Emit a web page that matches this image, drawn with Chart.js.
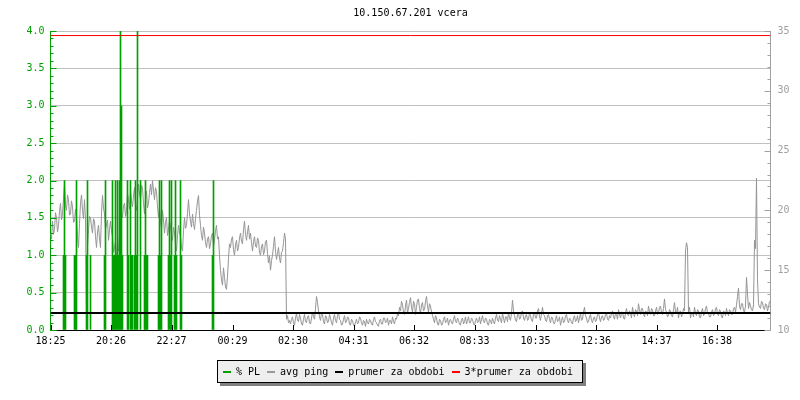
<!DOCTYPE html>
<html>
<head>
<meta charset="utf-8">
<script src="https://cdn.jsdelivr.net/npm/chart.js@4/dist/chart.umd.min.js"></script>
<style>
  body { margin: 0; background: #fff; }
  #wrap { position: relative; width: 800px; height: 400px; }
  #legend {
    position: absolute; left: 217px; top: 360px; width: 359px; height: 21px;
    border: 1px solid #000; background: #eeeeee; box-shadow: 3px 3px 0 #808080;
    display: flex; align-items: center; padding-left: 5px; box-sizing: content-box;
    font: 10px "DejaVu Sans Mono", monospace; color: #000; white-space: pre;
  }
  #legend .dash { display: inline-block; width: 8px; height: 2px; margin-right: 5px; }
  #legend .txt { margin-right: 7px; }
</style>
</head>
<body>
<div id="wrap">
  <canvas id="myChart" width="800" height="400"></canvas>
  <div id="legend">
    <span class="dash" style="background:#00a000"></span><span class="txt">% PL</span>
    <span class="dash" style="background:#999999"></span><span class="txt">avg ping</span>
    <span class="dash" style="background:#000000"></span><span class="txt">prumer za obdobi</span>
    <span class="dash" style="background:#ff0000"></span><span class="txt">3*prumer za obdobi</span>
  </div>
</div>
<script>
Chart.defaults.font.family = "DejaVu Sans Mono";
Chart.defaults.font.size = 10;

const title = "10.150.67.201 vcera";

// minutes since 18:25
const xTickMinutes = [0, 121, 242, 364, 485, 606, 727, 848, 970, 1091, 1212, 1333];
const xTickLabels = ["18:25", "20:26", "22:27", "00:29", "02:30", "04:31",
  "06:32", "08:33", "10:35", "12:36", "14:37", "16:38"];

// avg ping (ms), one value every 2 minutes
const pingStep = 2;
const pingValues = [
  18.1, 17.6, 19.1, 18.0, 18.4, 19.8, 19.4, 18.2, 18.75, 19.9, 20.6, 19.2, 19.7, 21.0, 22.2, 20.4, 20, 21.3, 20.9, 19.6,
  19.7, 20.8, 20.3, 19.0, 19.1, 20.1, 19.4, 17.8, 16.9, 18.9, 20.6, 21.3, 20, 19.3, 20.9, 19.2, 11.3, 17.0, 18.4, 19.5,
  19.4, 18.6, 18.1, 19.3, 19.1, 17.8, 16.9, 18.2, 18.75, 17.6, 16.9, 19.8, 21.25, 20.2, 19.7, 18.5, 18.75, 19.2, 17.5, 18.4,
  19.1, 18.3, 17.8, 16.5, 16.9, 17.4, 15.9, 16.8, 16.6, 17.9, 18.4, 19.6, 19.4, 20.4, 20.6, 19.5, 20, 21.4, 20.9, 20.1,
  21.6, 20.8, 20.3, 21.2, 21.9, 20.5, 20, 21.0, 22.2, 21.4, 20.9, 22.1, 21.9, 20.6, 19.7, 20.9, 21.6, 20.2, 20.6, 21.5,
  22.2, 21.3, 22.5, 21.7, 20.9, 21.9, 21.6, 20.3, 19.4, 20.2, 19.1, 18.5, 20, 19.2, 18.1, 19.0, 19.4, 17.9, 18.4, 19.1,
  18.75, 18.0, 17.5, 18.6, 18.1, 17.2, 16.6, 17.9, 18.75, 18.2, 17.8, 16.9, 16.6, 18.3, 19.4, 18.5, 18.75, 19.8, 20.9, 19.7,
  19.1, 18.6, 19.7, 18.9, 18.4, 19.3, 20, 20.8, 21.25, 19.6, 18.75, 17.9, 17.5, 18.6, 18.1, 17.3, 16.9, 17.6, 17.8, 16.8,
  17.2, 17.9, 18.1, 17.0, 17.5, 18.3, 18.75, 17.6, 17.8, 16.2, 15, 14.2, 13.75, 15.2, 14.4, 13.6, 13.4, 14.5, 16.0, 17.2,
  16.9, 17.6, 17.8, 16.7, 16.25, 17.1, 17.5, 16.6, 16.9, 17.7, 18.1, 17.4, 17.2, 18.4, 19.1, 18.0, 17.5, 18.2, 18.75, 17.6,
  18.1, 17.3, 16.6, 17.4, 17.8, 17.0, 16.9, 17.7, 17.5, 16.5, 16.25, 17.0, 17.2, 16.3, 16.6, 17.4, 17.5, 16.4, 15.6, 16.2,
  15, 15.8, 16.25, 17.0, 17.8, 16.6, 15.9, 16.4, 16.9, 16.0, 15.6, 16.5, 16.6, 17.3, 18.1, 17.6, 10.9, 11.2, 10.6, 10.8,
  10.5, 10.9, 11.1, 10.6, 10.4, 11.0, 11.4, 10.8, 10.7, 11.3, 11.0, 10.5, 10.4, 10.9, 11.3, 10.7, 10.6, 11.1, 11.2, 10.6,
  10.5, 11.0, 11.5, 11.1, 10.9, 11.8, 12.8, 12.3, 11.6, 11.1, 10.8, 11.4, 11.3, 10.7, 10.5, 11.2, 11.1, 10.6, 10.7, 11.3,
  11.0, 10.6, 10.4, 11.0, 11.3, 10.8, 10.6, 11.2, 11.5, 10.9, 10.8, 10.4, 10.5, 10.9, 11.2, 10.6, 10.7, 11.1, 11.0, 10.5,
  10.4, 10.9, 10.8, 10.4, 10.3, 10.7, 10.9, 10.5, 10.6, 11.1, 11.0, 10.6, 10.4, 10.8, 10.7, 10.3, 10.9, 10.6, 10.5, 10.9,
  10.8, 10.5, 10.4, 10.9, 11.1, 10.7, 10.6, 10.4, 10.3, 10.8, 10.9, 10.5, 10.5, 11.0, 11.0, 10.6, 10.7, 11.0, 10.4, 10.8,
  10.8, 10.5, 11.1, 10.7, 10.5, 11.0, 10.9, 11.4, 11.2, 11.9, 11.6, 12.4, 12.1, 11.5, 11.3, 12.0, 12.5, 11.4, 11.8, 12.3,
  12.7, 11.9, 11.5, 12.4, 12.2, 11.3, 11.9, 12.5, 12.6, 11.8, 11.4, 12.1, 12.3, 11.6, 11.7, 12.4, 12.8, 12.0, 11.5, 12.2,
  12.0, 11.5, 11.2, 10.9, 10.6, 11.2, 11.0, 10.5, 10.4, 10.9, 10.8, 10.4, 10.5, 10.9, 11.1, 10.6, 10.7, 11.0, 10.4, 10.8,
  10.9, 10.6, 10.5, 10.9, 11.2, 10.7, 10.6, 11.0, 10.8, 10.5, 10.4, 10.9, 11.0, 10.5, 10.7, 11.1, 10.5, 10.8, 11.1, 10.6,
  10.6, 11.0, 10.9, 10.5, 10.4, 10.8, 11.0, 10.6, 10.7, 11.1, 10.5, 10.9, 11.2, 10.7, 10.6, 11.0, 10.9, 10.5, 10.4, 10.9,
  10.8, 10.5, 11.0, 10.7, 10.5, 11.0, 11.3, 10.8, 10.7, 11.2, 10.9, 10.6, 11.4, 11.0, 10.6, 11.1, 11.1, 10.7, 11.5, 11.0,
  10.8, 11.4, 12.5, 11.6, 11.2, 10.8, 10.7, 11.3, 11.4, 10.9, 11.0, 11.5, 11.6, 11.0, 10.8, 11.2, 11.3, 10.8, 10.9, 11.4,
  11.2, 10.8, 10.7, 11.3, 11.5, 11.0, 11.0, 11.6, 11.8, 11.1, 10.8, 11.4, 11.9, 11.3, 11.2, 10.8, 10.7, 11.2, 11.3, 10.9,
  10.6, 11.1, 11.0, 10.6, 10.5, 10.9, 11.2, 10.7, 10.8, 11.1, 10.4, 10.8, 11.1, 10.6, 10.7, 11.2, 11.3, 10.8, 10.6, 11.0,
  10.9, 10.6, 10.5, 11.0, 11.2, 10.7, 10.8, 11.2, 10.6, 11.0, 11.4, 10.8, 10.9, 11.5, 11.9, 11.2, 11.0, 10.6, 10.7, 11.1,
  11.3, 10.8, 10.6, 11.0, 11.1, 10.7, 10.8, 11.3, 11.5, 11.0, 10.7, 11.1, 11.2, 10.8, 10.9, 11.3, 11.4, 10.9, 10.8, 11.2,
  11.0, 11.4, 11.6, 11.1, 10.9, 11.4, 11.3, 10.9, 11.7, 11.3, 11.0, 11.5, 11.5, 11.0, 10.9, 11.4, 11.8, 11.3, 11.2, 11.6,
  11.4, 11.0, 11.9, 11.4, 11.1, 11.7, 11.6, 11.2, 12.2, 11.7, 11.3, 11.8, 11.8, 11.3, 11.1, 11.6, 11.5, 11.2, 12.0, 11.5,
  11.3, 11.8, 11.7, 11.2, 11.2, 11.6, 11.9, 11.3, 11.4, 11.9, 12.0, 11.5, 11.3, 11.8, 12.6, 11.7, 11.5, 11.1, 11.2, 11.7,
  11.6, 11.2, 11.1, 11.7, 12.3, 11.5, 11.4, 11.9, 11.0, 11.5, 11.6, 11.1, 11.3, 11.8, 11.6, 16.6, 17.3, 16.9, 11.5, 11.9,
  11.0, 11.5, 11.4, 11.1, 11.9, 11.4, 11.2, 11.7, 11.6, 11.1, 11.0, 11.5, 11.8, 11.2, 11.3, 11.8, 12.0, 11.4, 11.4, 11.1,
  11.1, 11.5, 11.7, 11.2, 11.3, 11.8, 11.9, 11.3, 11.2, 11.7, 11.6, 11.1, 11.0, 11.6, 11.5, 11.2, 11.8, 11.4, 11.2, 11.7,
  11.6, 11.3, 11.3, 11.8, 11.9, 11.5, 12.1, 12.8, 13.5, 12.0, 11.7, 12.2, 12.2, 11.6, 11.5, 12.0, 14.4, 13.0, 11.8, 12.3,
  12.0, 11.7, 11.6, 12.1, 17.5, 16.8, 22.7, 14.2, 12.2, 11.9, 11.8, 12.4, 12.3, 11.8, 11.7, 12.2, 12.1, 11.6, 11.9, 12.4,
];

// packet loss (%), minute of each loss event
const plMinutes = [
  26, 28, 30, 48, 50, 52, 72, 74, 80, 108, 110,
  124, 126, 128, 130, 132, 134, 136, 138, 140, 142, 144,
  154, 156, 160, 162, 164, 168, 170, 172, 174, 180,
  188, 190, 192, 194, 216, 218, 220, 222, 236, 238, 240, 242,
  248, 250, 252, 260, 262, 324, 326,
];
const plValues = [
  1, 2, 1, 1, 1, 2, 1, 2, 1, 1, 2,
  2, 1, 1, 2, 1, 2, 1, 2, 5, 3, 1,
  2, 1, 2, 1, 1, 1, 2, 1, 5, 2,
  1, 2, 1, 1, 1, 2, 1, 2, 1, 2, 1, 2,
  1, 2, 1, 2, 1, 1, 2,
];

const avgPing = 11.42;
const avgPing3 = 34.62;

const plGreen = "#00a000";
const pingGray = "#959595";
const axisGray = "#a0a0a0";

const innerTicks = {
  id: "innerTicks",
  afterDraw(chart) {
    const { ctx, chartArea: a, scales } = chart;
    ctx.save();
    ctx.lineWidth = 1;
    ctx.strokeStyle = plGreen;
    for (let k = 0; k <= 40; k++) {
      const y = Math.round(scales.y.getPixelForValue(k / 10)) + 0.5;
      const len = k % 5 === 0 ? 6 : 3;
      ctx.beginPath();
      ctx.moveTo(a.left, y);
      ctx.lineTo(a.left + len, y);
      ctx.stroke();
    }
    ctx.strokeStyle = axisGray;
    for (let v = 10; v <= 35; v++) {
      const y = Math.round(scales.y2.getPixelForValue(v)) + 0.5;
      const len = v % 5 === 0 ? 6 : 3;
      ctx.beginPath();
      ctx.moveTo(a.right, y);
      ctx.lineTo(a.right - len, y);
      ctx.stroke();
    }
    ctx.strokeStyle = "#000";
    xTickMinutes.forEach((m) => {
      const x = Math.round(scales.x.getPixelForValue(m)) + 0.5;
      ctx.beginPath();
      ctx.moveTo(x, a.bottom);
      ctx.lineTo(x, a.bottom - 5);
      ctx.stroke();
    });
    ctx.restore();
  },
};

const ctx = document.getElementById("myChart");

const myChart = new Chart(ctx, {
  type: "bar",
  data: {
    datasets: [
      {
        type: "line",
        label: "3*prumer za obdobi",
        data: [{ x: 0, y: avgPing3 }, { x: 1440, y: avgPing3 }],
        borderColor: "#ff0000",
        borderWidth: 1,
        pointRadius: 0,
        yAxisID: "y2",
        order: 1,
      },
      {
        type: "line",
        label: "prumer za obdobi",
        data: [{ x: 0, y: avgPing }, { x: 1440, y: avgPing }],
        borderColor: "#000000",
        borderWidth: 2,
        pointRadius: 0,
        yAxisID: "y2",
        order: 1,
      },
      {
        type: "bar",
        label: "% PL",
        data: plMinutes.map((m, i) => ({ x: m, y: plValues[i] })),
        backgroundColor: plGreen,
        borderWidth: 0,
        barThickness: 1,
        yAxisID: "y",
        order: 2,
      },
      {
        type: "line",
        label: "avg ping",
        data: pingValues.map((v, i) => ({ x: i * pingStep, y: v })),
        borderColor: pingGray,
        borderWidth: 1,
        pointRadius: 0,
        tension: 0,
        yAxisID: "y2",
        order: 3,
      },
    ],
  },
  options: {
    responsive: false,
    animation: false,
    devicePixelRatio: 1,
    layout: { padding: 0 },
    plugins: {
      title: {
        display: true,
        text: title,
        color: "#000",
        fullSize: false,
        font: { size: 10, weight: "normal" },
        padding: { top: 7, bottom: 12 },
      },
      legend: { display: false },
      tooltip: { enabled: false },
    },
    scales: {
      x: {
        type: "linear",
        min: 0,
        max: 1440,
        offset: false,
        grid: { display: false, drawTicks: false, offset: false },
        border: { color: "#000", width: 1 },
        afterBuildTicks: (scale) => {
          scale.ticks = xTickMinutes.map((v) => ({ value: v }));
        },
        afterFit: (scale) => {
          scale.height = 70;
        },
        ticks: {
          color: "#000",
          autoSkip: false,
          maxRotation: 0,
          padding: 5,
          callback: (value, index) => xTickLabels[index],
        },
      },
      y: {
        position: "left",
        min: 0,
        max: 4,
        grid: { color: "#c0c0c0", drawTicks: false },
        border: { color: plGreen },
        afterFit: (scale) => {
          scale.width = 50.5;
        },
        ticks: {
          stepSize: 0.5,
          color: plGreen,
          padding: 6,
          callback: (v) => v.toFixed(1),
        },
      },
      y2: {
        position: "right",
        min: 10,
        max: 35,
        grid: { display: false, drawTicks: false },
        border: { color: axisGray },
        afterFit: (scale) => {
          scale.width = 29.5;
        },
        ticks: {
          stepSize: 5,
          color: axisGray,
          padding: 7,
        },
      },
    },
  },
  plugins: [innerTicks],
});
</script>
</body>
</html>
